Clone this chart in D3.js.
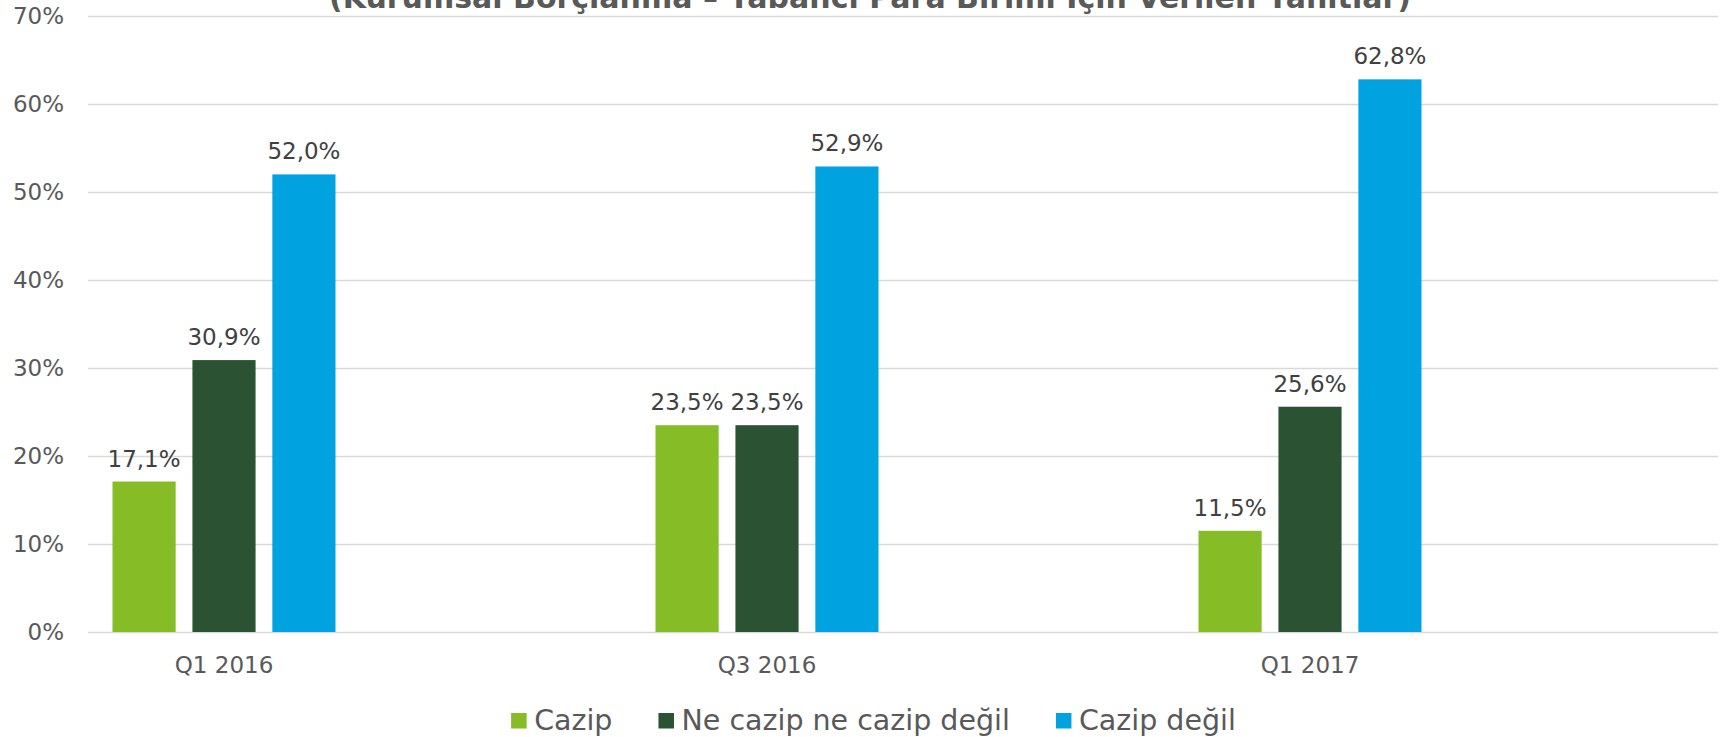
<!DOCTYPE html>
<html>
<head>
<meta charset="utf-8">
<script src="https://cdn.jsdelivr.net/npm/d3@7"></script>
<style>
  body { margin: 0; background: #fff; }
  text { font-family: "DejaVu Sans", Verdana, sans-serif; }
  .grid line { stroke: #d9d9d9; stroke-width: 1.5px; }
  .grid path { display: none; }
  .grid text { fill: #595959; font-size: 23px; }
  .cats path, .cats line { display: none; }
  .cats text { fill: #595959; font-size: 23px; }
  .lbl { fill: #404040; font-size: 23px; }
  .legend text { fill: #595959; font-size: 28.5px; }
</style>
</head>
<body>
<div id="chart"></div>
<script>

var categories = ['Q1 2016', 'Q3 2016', 'Q1 2017'];
var seriesNames = ['Cazip', 'Ne cazip ne cazip değil', 'Cazip değil'];
var cazip = [17.1, 23.5, 11.5];
var neCazip = [30.9, 23.5, 25.6];
var cazipDegil = [52.0, 52.9, 62.8];
var yTicks = [0, 10, 20, 30, 40, 50, 60, 70];
var colors = ['#86bc25', '#2c5234', '#00a3e0'];
var title = '(Kurumsal Borçlanma – Yabancı Para Birimi İçin Verilen Yanıtlar)';

var width = 1721, height = 737;
var chartC = { x0: 88, x1: 1718, y0: 16, y1: 632 };

var svg = d3.select('#chart').append('svg')
    .attr('width', width)
    .attr('height', height);

var values = [cazip, neCazip, cazipDegil];
var rows = categories.map(function (c, i) {
    return { cat: c, vals: seriesNames.map(function (s, j) { return { name: s, idx: j, v: values[j][i] }; }) };
});

var yScale = d3.scaleLinear().domain([0, 70]).range([chartC.y1, chartC.y0]);

// groups are 543px apart, first centred at x=224
var xScale_0 = d3.scaleBand()
    .domain(categories)
    .range([224 - 271.5, 224 - 271.5 + 3 * 543]);

var xScale_1 = d3.scaleBand()
    .domain(seriesNames)
    .range([160, 383])
    .paddingInner(0.21);

// title, clipped by the top edge like the source
svg.append('text')
    .attr('x', 870)
    .attr('y', 8)
    .attr('text-anchor', 'middle')
    .style('font-weight', 'bold')
    .style('font-size', '30px')
    .style('fill', '#595959')
    .text(title);

svg.append('g')
    .attr('class', 'grid')
    .attr('transform', `translate(${chartC.x0},0)`)
    .call(d3.axisLeft(yScale)
        .tickValues(yTicks)
        .tickSize(-(chartC.x1 - chartC.x0))
        .tickPadding(24)
        .tickFormat(function (d) { return d + '%'; }));

svg.append('g')
    .attr('class', 'cats')
    .attr('transform', `translate(0,${chartC.y1})`)
    .call(d3.axisBottom(xScale_0).tickSize(0).tickPadding(25));

var g = svg.append('g')
    .selectAll('g')
    .data(rows)
    .enter()
    .append('g')
    .attr('transform', d => `translate(${xScale_0(d.cat)},0)`);

g.selectAll('rect')
    .data(d => d.vals)
    .enter()
    .append('rect')
    .attr('x', d => xScale_1(d.name))
    .attr('y', d => yScale(d.v))
    .attr('width', xScale_1.bandwidth())
    .attr('height', d => chartC.y1 - yScale(d.v))
    .attr('fill', d => colors[d.idx]);

g.selectAll('text.lbl')
    .data(d => d.vals)
    .enter()
    .append('text')
    .attr('class', 'lbl')
    .attr('x', d => xScale_1(d.name) + xScale_1.bandwidth() / 2)
    .attr('y', d => yScale(d.v) - 15)
    .attr('text-anchor', 'middle')
    .text(d => d.v.toFixed(1).replace('.', ',') + '%');

// legend, laid out from measured text widths and centred
var legend = svg.append('g').attr('class', 'legend');
var xpos = 0;
seriesNames.forEach(function (s, i) {
    var item = legend.append('g').attr('transform', `translate(${xpos},0)`);
    item.append('rect')
        .attr('x', 0).attr('y', 713)
        .attr('width', 15.5).attr('height', 15.5)
        .attr('fill', colors[i]);
    var t = item.append('text')
        .attr('x', 23).attr('y', 730)
        .text(s);
    xpos += 23 + t.node().getComputedTextLength() + 46;
});
var legendW = xpos - 46;
legend.attr('transform', `translate(${873.5 - legendW / 2},0)`);

</script>
</body>
</html>
